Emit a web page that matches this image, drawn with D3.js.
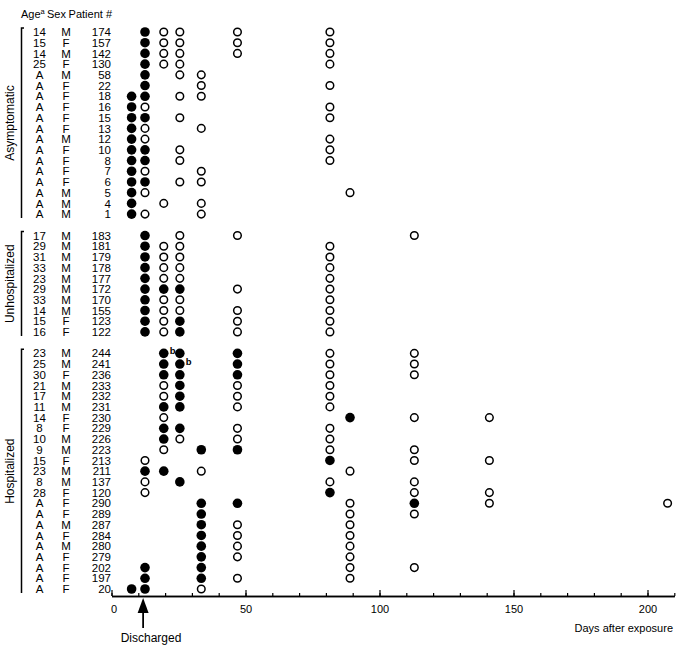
<!DOCTYPE html>
<html>
<head>
<meta charset="utf-8">
<script src="https://cdn.jsdelivr.net/npm/d3@7"></script>
<style>
  body { margin: 0; background: #fff; }
  svg { display: block; font-family: "Liberation Sans", Arial, sans-serif; }
</style>
</head>
<body>
<svg id="chart" width="684" height="648"></svg>
<script>
// rows, top to bottom
const groups = ['Asymptomatic', 'Unhospitalized', 'Hospitalized']
const groupSizes = [18, 10, 23]

const patients = [174, 157, 142, 130, 58, 22, 18, 16, 15, 13, 12, 10, 8, 7, 6, 5, 4, 1,
    183, 181, 179, 178, 177, 172, 170, 155, 123, 122,
    244, 241, 236, 233, 232, 231, 230, 229, 226, 223, 213, 211, 137, 120, 290, 289, 287, 284, 280, 279, 202, 197, 20]
const ages = ['14', '15', '14', '25', 'A', 'A', 'A', 'A', 'A', 'A', 'A', 'A', 'A', 'A', 'A', 'A', 'A', 'A',
    '17', '29', '31', '33', '23', '29', '33', '14', '15', '16',
    '23', '25', '30', '21', '17', '11', '14', '8', '10', '9', '15', '23', '8', '28', 'A', 'A', 'A', 'A', 'A', 'A', 'A', 'A', 'A']
const sexes = ['M', 'F', 'M', 'F', 'M', 'F', 'F', 'F', 'F', 'F', 'M', 'F', 'F', 'F', 'F', 'M', 'M', 'M',
    'M', 'M', 'M', 'M', 'M', 'M', 'M', 'M', 'F', 'F',
    'M', 'M', 'F', 'M', 'M', 'M', 'F', 'F', 'M', 'M', 'F', 'M', 'M', 'F', 'F', 'F', 'M', 'F', 'M', 'F', 'F', 'F', 'F']

// sampling days (days after exposure), filled = positive, open = negative
const positive = [
    [12.5], [12.5], [12.5], [12.5], [12.5], [12.5], [7.5, 12.5], [7.5], [7.5, 12.5], [7.5], [7.5], [7.5, 12.5], [7.5, 12.5], [7.5], [7.5, 12.5], [7.5], [7.5], [7.5],
    [12.5], [12.5], [12.5], [12.5], [12.5], [12.5, 19.5, 25.5], [12.5], [12.5], [12.5, 25.5], [12.5, 25.5],
    [19.5, 25.5, 47], [19.5, 25.5, 47], [19.5, 25.5, 47], [25.5], [25.5], [19.5, 25.5], [89], [19.5, 25.5], [19.5], [33.5, 47], [81.5], [12.5, 19.5], [25.5], [81.5],
    [33.5, 47, 113], [33.5], [33.5], [33.5], [33.5], [33.5], [12.5, 33.5], [12.5, 33.5], [7.5, 12.5]
]
const negative = [
    [19.5, 25.5, 47, 81.5], [19.5, 25.5, 47, 81.5], [19.5, 25.5, 47, 81.5], [19.5, 25.5, 81.5], [25.5, 33.5], [33.5, 81.5], [25.5, 33.5], [12.5, 81.5], [25.5, 81.5], [12.5, 33.5], [12.5, 81.5], [25.5, 81.5], [25.5, 81.5], [12.5, 33.5], [25.5, 33.5], [12.5, 89], [19.5, 33.5], [12.5, 33.5],
    [25.5, 47, 113], [19.5, 25.5, 81.5], [19.5, 25.5, 81.5], [19.5, 25.5, 81.5], [19.5, 25.5, 81.5], [47, 81.5], [19.5, 25.5, 81.5], [19.5, 25.5, 47, 81.5], [19.5, 47, 81.5], [19.5, 47, 81.5],
    [81.5, 113], [81.5, 113], [81.5, 113], [19.5, 47, 81.5], [19.5, 47, 81.5], [47, 81.5], [19.5, 113, 141], [47, 81.5], [25.5, 47, 81.5], [19.5, 81.5, 113], [12.5, 113, 141], [33.5, 89], [12.5, 81.5, 113], [12.5, 113, 141],
    [89, 141, 207.5], [89, 113], [47, 89], [47, 89], [47, 89], [47, 89], [89, 113], [47, 89], [33.5]
]
const footnoteB = [[244, 19.5], [241, 25.5]]
const dischargeDay = 11.8
const majorTicks = [0, 50, 100, 150, 200]

const svg = d3.select('#chart')

// row keys with a blank slot between groups
const rowKeys = []
let idx = 0
groups.forEach(function (g, gi) {
    if (gi > 0) rowKeys.push('gap' + gi)
    for (let i = 0; i < groupSizes[gi]; i++) rowKeys.push('p' + patients[idx++])
})

const y = d3.scalePoint().domain(rowKeys).range([32, 589])
const x = d3.scaleLinear().domain([0, 210]).range([111.5, 674.3])

// header
const hdr = svg.append('text').attr('x', 21).attr('y', 18).attr('font-size', 11)
hdr.append('tspan').text('Age')
hdr.append('tspan').attr('font-size', 7.5).attr('dy', -4).text('a')
svg.append('text').attr('x', 47).attr('y', 18).attr('font-size', 11).text('Sex')
svg.append('text').attr('x', 112).attr('y', 18).attr('font-size', 11).attr('text-anchor', 'end').text('Patient #')

// row labels
const rows = patients.map(function (p, i) { return { p: p, age: ages[i], sex: sexes[i], pos: positive[i], neg: negative[i] } })
const rl = svg.append('g').attr('font-size', 11.5)
rl.selectAll('text.age').data(rows).join('text').attr('class', 'age')
    .attr('x', 39.5).attr('y', function (d) { return y('p' + d.p) }).attr('dy', '0.36em')
    .attr('text-anchor', 'middle').text(function (d) { return d.age })
rl.selectAll('text.sex').data(rows).join('text').attr('class', 'sex')
    .attr('x', 66).attr('y', function (d) { return y('p' + d.p) }).attr('dy', '0.36em')
    .attr('text-anchor', 'middle').text(function (d) { return d.sex })
rl.selectAll('text.pid').data(rows).join('text').attr('class', 'pid')
    .attr('x', 111).attr('y', function (d) { return y('p' + d.p) }).attr('dy', '0.36em')
    .attr('text-anchor', 'end').text(function (d) { return d.p })

// group brackets + rotated names
let start = 0
groups.forEach(function (g, gi) {
    const first = y('p' + patients[start]), last = y('p' + patients[start + groupSizes[gi] - 1])
    start += groupSizes[gi]
    svg.append('path').attr('fill', 'none').attr('stroke', '#000').attr('stroke-width', 1.5)
        .attr('d', 'M24,' + (first - 4) + ' H21.5 V' + (last + 4))
    svg.append('text').attr('font-size', 12).attr('text-anchor', 'middle')
        .attr('transform', 'translate(14,' + ((first + last) / 2) + ') rotate(-90)')
        .text(g)
})

// samples
const pts = []
rows.forEach(function (r) {
    r.pos.forEach(function (d) { pts.push({ p: r.p, day: d, pos: true }) })
    r.neg.forEach(function (d) { pts.push({ p: r.p, day: d, pos: false }) })
})
svg.append('g').selectAll('circle').data(pts).join('circle')
    .attr('cx', function (d) { return x(d.day) })
    .attr('cy', function (d) { return y('p' + d.p) })
    .attr('r', function (d) { return d.pos ? 4.8 : 3.8 })
    .attr('fill', function (d) { return d.pos ? '#000' : '#fff' })
    .attr('stroke', '#000').attr('stroke-width', function (d) { return d.pos ? 0 : 1.5 })

svg.append('g').selectAll('text').data(footnoteB).join('text')
    .attr('x', function (d) { return x(d[1]) + 6 })
    .attr('y', function (d) { return y('p' + d[0]) + 1 })
    .attr('font-size', 9.5).attr('font-weight', 'bold').attr('fill', '#000').text('b')

// x axis, ticks pointing up
const axisY = 596
const ax = svg.append('g').attr('transform', 'translate(0,' + axisY + ')')
ax.call(d3.axisBottom(x).tickValues(d3.range(0, 211, 10)).tickSizeInner(-3).tickSizeOuter(0).tickFormat(''))
ax.append('g').call(d3.axisBottom(x).tickValues(majorTicks).tickSizeInner(-6).tickSizeOuter(0).tickPadding(9))
ax.selectAll('path.domain').attr('stroke-width', 1.5)
ax.selectAll('.tick line').attr('stroke-width', 1.2)
ax.selectAll('text').attr('font-size', 11).attr('font-family', '"Liberation Sans", Arial, sans-serif').attr('fill', '#000')
ax.selectAll('.tick text').filter(function (d) { return d === 0 }).attr('dx', 2)

svg.append('text').attr('x', 673).attr('y', 632).attr('font-size', 11).attr('text-anchor', 'end').text('Days after exposure')

// discharged arrow
const ax0 = x(dischargeDay)
svg.append('path').attr('fill', '#000')
    .attr('d', 'M' + ax0 + ',598 L' + (ax0 - 5.5) + ',613 L' + (ax0 + 5.5) + ',613 Z')
svg.append('line').attr('x1', ax0).attr('x2', ax0).attr('y1', 610).attr('y2', 628)
    .attr('stroke', '#000').attr('stroke-width', 1.8)
svg.append('text').attr('x', 151).attr('y', 642).attr('font-size', 12).attr('text-anchor', 'middle').text('Discharged')
</script>
</body>
</html>
